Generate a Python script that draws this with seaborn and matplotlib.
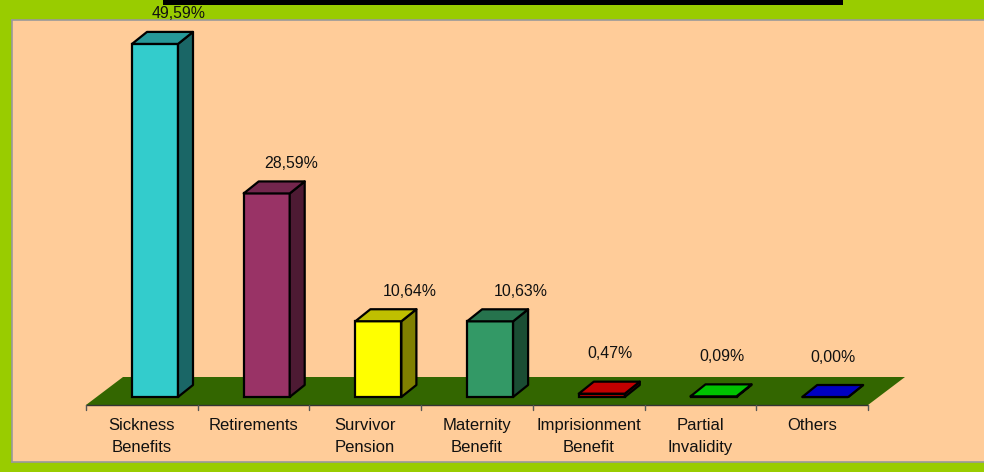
import matplotlib
matplotlib.use("Agg")
import matplotlib.pyplot as plt
import seaborn as sns
import numpy as np
from matplotlib.patches import Polygon, Rectangle
from matplotlib.colors import to_rgb

# ---- data ----
categories = ["Sickness\nBenefits", "Retirements", "Survivor\nPension", "Maternity\nBenefit",
              "Imprisionment\nBenefit", "Partial\nInvalidity", "Others"]
values = [49.59, 28.59, 10.64, 10.63, 0.47, 0.09, 0.00]
colors = ["#33CCCC", "#993366", "#FFFF00", "#339966", "#CC0000", "#00CC00", "#0000CC"]

# ---- layout (pixels) ----
W, H, DPI = 984, 472, 100
px_x = 111.7          # pixels per category
px_y = 7.12           # pixels per percent
ax_left, ax_right, ax_top, ax_bot = 12, 984, 20, 462
bar_c0 = 155          # pixel x of first bar centre
base_y = 397          # pixel y of value 0

sns.set_theme(style="white")
plt.rcParams['font.family'] = ['Liberation Sans', 'DejaVu Sans']

fig = plt.figure(figsize=(W / DPI, H / DPI), dpi=DPI)
fig.patch.set_facecolor("#99CC00")
ax = fig.add_axes([ax_left / W, 1 - ax_bot / H, (ax_right - ax_left) / W, (ax_bot - ax_top) / H])
ax.set_facecolor("#FFCC99")

xmin = (ax_left - bar_c0) / px_x
xmax = (ax_right - bar_c0) / px_x
ymin = -(ax_bot - base_y) / px_y
ymax = (base_y - ax_top) / px_y

sns.barplot(x=categories, y=values, hue=categories, palette=colors, legend=False,
            width=46 / px_x, edgecolor="black", linewidth=1.6, ax=ax, saturation=1, zorder=3)

ax.set_xlim(xmin, xmax)
ax.set_ylim(ymin, ymax)
ax.set_xticks([])
ax.set_yticks([])
ax.set_xlabel("")
ax.set_ylabel("")
for s in ax.spines.values():
    s.set_color("#999999")
    s.set_linewidth(1.2)
ax.spines["right"].set_visible(False)

# floor
fx0 = (86 - bar_c0) / px_x
fx1 = (868 - bar_c0) / px_x
fy_front = -(405 - base_y) / px_y
fdx = 37 / px_x
fdy = 28 / px_y
floor = Polygon([(fx0, fy_front), (fx1, fy_front), (fx1 + fdx, fy_front + fdy), (fx0 + fdx, fy_front + fdy)],
                closed=True, facecolor="#336600", edgecolor="none", zorder=1)
ax.add_patch(floor)
ax.plot([fx0, fx1], [fy_front, fy_front], color="#333333", lw=1, zorder=1.5)
tick_len = 5 / px_y
for i in range(len(categories) + 1):
    xt = fx0 + i
    ax.plot([xt, xt], [fy_front, fy_front - tick_len], color="#555555", lw=1, zorder=1.5)

# category labels
for i, c in enumerate(categories):
    ax.text(fx0 + i + 0.5, -(418 - base_y) / px_y, c, ha="center", va="top",
            fontsize=12, color="#111111", linespacing=1.55)

# 3D faces
bdx = 15 / px_x
bdy = 12 / px_y
for p, col, v in zip(ax.patches[:len(values)], colors, values):
    x0 = p.get_x()
    w = p.get_width()
    h = p.get_height()
    rgb = np.array(to_rgb(col))
    top_shade = 0.75 if h > 1 else 0.95
    side = Polygon([(x0 + w, 0), (x0 + w + bdx, bdy), (x0 + w + bdx, h + bdy), (x0 + w, h)],
                   closed=True, facecolor=rgb * 0.5, edgecolor="black", lw=1.6, joinstyle="round", zorder=3)
    top = Polygon([(x0, h), (x0 + w, h), (x0 + w + bdx, h + bdy), (x0 + bdx, h + bdy)],
                  closed=True, facecolor=rgb * top_shade, edgecolor="black", lw=1.6, joinstyle="round", zorder=3)
    ax.add_patch(side)
    ax.add_patch(top)
    # value label
    if h > 20:
        ox = 24
    elif h > 5:
        ox = 31
    else:
        ox = 8
    if h > 5:
        ly = h + 30 / px_y
    else:
        ly = h + 40 / px_y
    ax.text(x0 + w / 2 + ox / px_x, ly, f"{v:.2f}".replace(".", ",") + "%",
            ha="center", va="center", fontsize=11.4, color="#111111", clip_on=False, zorder=5)

# black bar at the top
fig.patches.append(Rectangle((163 / W, 1 - 5 / H), 680 / W, 5 / H, transform=fig.transFigure,
                             facecolor="black", edgecolor="none", zorder=10))

fig.savefig("out.png", dpi=DPI, facecolor=fig.get_facecolor())
